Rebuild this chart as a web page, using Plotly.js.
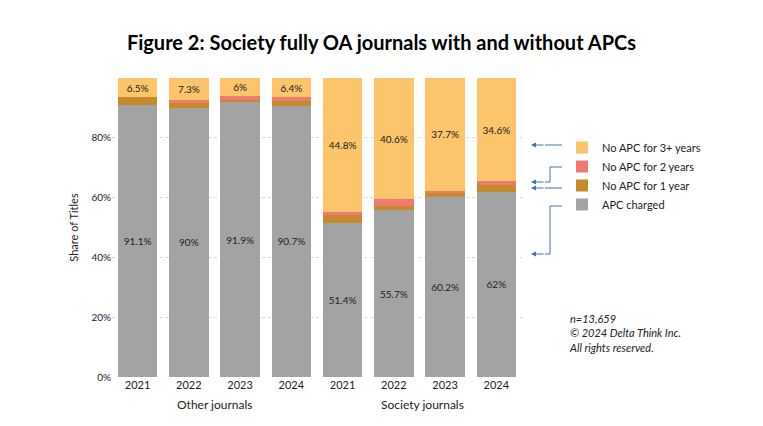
<!DOCTYPE html>
<html><head><script src="https://cdn.plot.ly/plotly-3.0.1.min.js"></script>
<style>body{margin:0}</style></head><body>
<div id="chart" style="width:763px;height:426px"></div>
<script>
const cats = ["o2021","o2022","o2023","o2024","s2021","s2022","s2023","s2024"];
const years = ["2021","2022","2023","2024","2021","2022","2023","2024"];
const apcCharged = [91.1, 90, 91.9, 90.7, 51.4, 55.7, 60.2, 62];
const noApc1 = [2.4, 1.7, 0.8, 1.5, 2.8, 1.5, 1.3, 2.2];
const noApc2 = [0, 1.0, 1.3, 1.4, 1.0, 2.2, 0.8, 1.2];
const noApc3 = [6.5, 7.3, 6, 6.4, 44.8, 40.6, 37.7, 34.6];
const yTicks = [0, 20, 40, 60, 80];

const W = 410, H = 299, L = 112, T = 78;
const px = x => (x - L) / W, py = y => (T + H - y) / H;

function bar(name, vals, color, labels) {
  return {
    type: "bar", x: cats, y: vals, name, marker: {color},
    text: labels ? vals.map(v => v + "%") : null,
    textposition: labels ? "inside" : "none", insidetextanchor: "middle",
    textfont: {size: 10, color: "#222"}, hoverinfo: "y"
  };
}
const traces = [
  bar("APC charged", apcCharged, "#a3a3a3", true),
  bar("No APC for 1 year", noApc1, "#c58a2c", false),
  bar("No APC for 2 years", noApc2, "#ef7a6f", false),
  bar("No APC for 3+ years", noApc3, "#fcc46b", true)
];

const line = (x0, y0, x1, y1) => ({type: "line", xref: "paper", yref: "paper",
  x0: px(x0), y0: py(y0), x1: px(x1), y1: py(y1), line: {color: "#4a72b8", width: 1}});
const arrow = (x, y) => ({xref: "paper", yref: "paper", x: px(x), y: py(y), ax: 14, ay: 0,
  text: "", showarrow: true, arrowhead: 2, arrowsize: 1, arrowwidth: 1, arrowcolor: "#4a72b8"});

Plotly.newPlot("chart", traces, {
  barmode: "stack", bargap: 0.23, showlegend: true,
  width: 763, height: 426, margin: {l: L, r: 763 - L - W, t: T, b: 426 - T - H},
  font: {family: "Lato, 'Open Sans', sans-serif", color: "#222"},
  paper_bgcolor: "white", plot_bgcolor: "white",
  title: {text: "<b>Figure 2: Society fully OA journals with and without APCs</b>",
    x: 0.5, y: 0.915, font: {size: 20, color: "#000"}},
  xaxis: {type: "category", tickvals: cats, ticktext: years, tickfont: {size: 11}, showline: false},
  yaxis: {range: [0, 100], tickvals: yTicks, ticktext: yTicks.map(v => v + "%"), tickfont: {size: 10},
    gridcolor: "#d8d8d8", griddash: "dot", zeroline: false,
    title: {text: "Share of Titles", font: {size: 11}, standoff: 10}},
  legend: {x: px(562), y: py(133), xanchor: "left", yanchor: "top", traceorder: "reversed",
    font: {size: 11}, itemwidth: 30, tracegroupgap: 0, itemsizing: "constant"},
  shapes: [
    line(568, 145, 545, 145),
    line(568, 167, 550, 167), line(550, 167, 550, 182), line(550, 182, 545, 182),
    line(568, 188, 545, 188),
    line(568, 206, 550, 206), line(550, 206, 550, 254), line(550, 254, 545, 254)
  ],
  annotations: [
    arrow(531, 145), arrow(531, 182), arrow(531, 188), arrow(531, 254),
    {xref: "paper", yref: "paper", x: px(215), y: py(414), xanchor: "center", text: "Other journals", showarrow: false, font: {size: 12}},
    {xref: "paper", yref: "paper", x: px(422), y: py(414), xanchor: "center", text: "Society journals", showarrow: false, font: {size: 12}},
    {xref: "paper", yref: "paper", x: px(567), y: py(356), xanchor: "left",
      text: "<i>n=13,659<br>© 2024 Delta Think Inc.<br>All rights reserved.</i>", align: "left",
      showarrow: false, font: {size: 11}}
  ]
}, {displayModeBar: false});
</script></body></html>
